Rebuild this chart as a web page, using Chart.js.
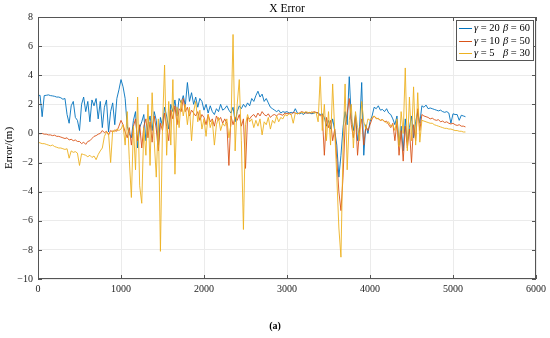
<!DOCTYPE html>
<html>
<head>
<meta charset="utf-8">
<script src="https://cdn.jsdelivr.net/npm/chart.js@4"></script>
<style>
  html,body{margin:0;padding:0;background:#fff;}
  #wrap{width:550px;height:338px;position:relative;}
</style>
</head>
<body>
<div id="wrap"><canvas id="c" width="550" height="338"></canvas></div>
<script>
// sample spacing of the recorded series (epoch index step)
const sampleStep = 25;

const seriesNames = ['γ = 20  β = 60', 'γ = 10  β = 50', 'γ = 5    β = 30'];
const xTicks = [0, 1000, 2000, 3000, 4000, 5000, 6000];
const yTicks = [-10, -8, -6, -4, -2, 0, 2, 4, 6, 8];

const blueErr = [
  2.6, 2.62, 1.15, 2.6, 2.62, 2.65, 2.6, 2.58, 2.55, 2.5,
  2.5, 2.45, 2.35, 2.4, 1.3, 0.7, 1.9, 2.2, 1.1, 0.9,
  0.2, 2.0, 2.5, 1.5, 2.2, 0.8, 2.3, 1.9, 2.4, 1.0,
  2.2, 0.4, 1.8, 2.3, 0.1, 1.5, 2.1, 0.6, 2.4, 3.0,
  3.7, 3.2, 2.4, 0.5, 0.0, -0.3, 0.9, 1.5, -1.0, 0.4,
  0.8, 1.3, -0.5, 0.6, 1.2, 0.2, 1.5, 0.9, -0.8, 1.1,
  0.5, 1.8, 1.2, 0.3, 2.0, 1.5, 2.3, 1.2, 2.4, 2.1,
  2.6, 1.9, 3.5, 2.2, 2.8, 2.0, 2.5, 1.8, 2.4, 2.2,
  1.6, 2.0, 1.4, 1.9, 1.5, 1.3, 1.7, 1.5, 2.0, 1.6,
  1.7, 1.9, 1.6, 1.4, 1.8, 0.8, 1.5, 1.9, 1.7, 2.0,
  1.8, 2.1, 1.9, 2.4, 2.2, 2.6, 2.9, 2.5, 2.7, 2.2,
  2.4, 2.1, 1.8, 1.7, 1.6, 1.5, 1.6, 1.4, 1.5, 1.45,
  1.5, 1.4, 1.45, 1.4, 1.7, 1.4, 1.35, 1.4, 1.3, 1.45,
  1.4, 1.4, 1.35, 1.4, 1.45, 1.4, 1.3, 1.35, 1.1, 0.5,
  0.9, 0.3, 1.0, 0.2, -0.8, -3.0, -1.5, 0.4, 1.5, 0.6,
  3.9, 1.0, 0.2, 1.3, -0.5, 0.5, 3.5, -1.5, 0.6, 0.0,
  0.8, 1.2, 1.8, 1.7, 1.9, 1.6, 1.65, 1.5, 1.7, 1.4,
  1.3, 1.0, 0.6, 1.2, -0.8, 0.5, -1.2, 1.0, -0.6, 0.4,
  1.2, -0.3, 0.8, 1.5, 0.7, 1.9, 1.8, 1.95, 1.7, 1.75,
  1.7, 1.65, 1.6, 1.55, 1.6, 1.5, 1.45, 1.5, 1.4, 0.7,
  1.35, 1.3, 1.3, 0.9, 1.25, 1.2, 1.15
];

const redErr = [
  0.0, -0.02, 0.0, -0.05, -0.05, -0.1, -0.1, -0.15, -0.12, -0.2,
  -0.2, -0.25, -0.3, -0.35, -0.3, -0.45, -0.4, -0.5, -0.45, -0.55,
  -0.55, -0.7, -0.6, -0.75, -0.55, -0.5, -0.35, -0.2, -0.15, -0.05,
  0.0, 0.2, 0.05, 0.15, -0.1, 0.2, 0.1, 0.25, 0.15, 0.5,
  0.9, 0.6, 0.1, -0.3, 0.4, -0.8, 0.5, 1.0, -0.5, 0.6,
  -1.0, 0.5, 1.0, -0.3, 0.8, -0.6, 1.2, 0.3, -1.2, 0.7,
  0.2, 1.4, 0.5, -0.5, 1.6, 1.0, 1.9, 0.6, 1.7, 1.5,
  2.4, 1.5, 1.8, 1.2, 1.6, 1.4, 1.2, 1.5, 0.9, 1.3,
  1.1, 0.6, 1.3, 0.8, 1.0, 0.5, 1.2, 0.9, 1.1, 0.7,
  1.0, 0.7, -2.2, 1.2, 0.6, 1.1, 0.9, 1.3, 0.5, 1.0,
  -2.4, 1.1, 1.0, 1.2, 1.3, 1.1, 1.4, 1.2, 1.5, 1.3,
  1.2, 1.35, 1.1, 1.25, 1.3, 1.2, 1.35, 1.3, 1.25, 1.4,
  1.35, 1.4, 1.3, 1.45, 1.4, 1.35, 1.4, 1.5, 1.45, 1.4,
  1.4, 1.45, 1.4, 1.5, 1.45, 1.4, 1.2, 1.3, -1.5, 1.1,
  0.4, 0.9, -0.5, 0.3, -1.8, -4.0, -5.3, -3.0, 0.5, 1.4,
  2.4, 0.6, -0.3, 1.2, -1.5, 0.3, 1.0, -0.8, 0.5, 0.2,
  0.6, 1.0, 1.2, 1.05, 1.0, 0.9, 0.95, 0.8, 0.85, 0.6,
  0.4, 0.7, -0.5, 0.8, -1.5, 0.2, -1.9, 0.5, -1.0, 0.3,
  -2.0, 0.6, -0.5, 1.7, 0.2, 1.3, 1.2, 1.15, 1.1, 1.0,
  1.05, 0.95, 0.9, 0.95, 0.8, 0.85, 0.75, 0.8, 0.7, 0.65,
  0.7, 0.6, 0.55, 0.6, 0.5, 0.5, 0.45
];

const yellowErr = [
  -0.6, -0.65, -0.7, -0.7, -0.75, -0.8, -0.85, -0.8, -0.9, -0.95,
  -1.0, -1.0, -1.05, -1.1, -1.05, -1.7, -1.2, -1.3, -1.25, -1.35,
  -2.2, -1.4, -1.45, -1.5, -1.6, -1.5, -1.65, -1.55, -1.8, -1.45,
  -1.2, -1.0, -0.2, 0.1, 0.0, -2.0, 0.2, 0.1, 0.3, 0.2,
  0.3, 0.6, -0.8, 1.5, -1.8, -4.4, 0.5, -2.5, 2.5, -3.6,
  -4.8, 0.4, -1.5, 2.0, -2.2, 2.8, -0.5, -3.0, 1.0, -8.1,
  0.5, 4.7, -1.5, 2.2, -0.8, 3.7, -2.8, 1.8, 0.4, 2.3,
  1.2, 2.0, 0.6, 1.8, -0.5, 1.5, 2.2, 0.8, 1.6, 0.3,
  1.0, -0.2, 1.3, 0.4, 0.9, -0.8, 0.6, 1.1, 0.2, 0.7,
  0.5, 1.0, -0.3, 0.6, 6.8, -1.2, 2.0, 3.7, -0.5, -6.6,
  0.6, 1.3, 0.8, 1.0, 0.4, 0.9, 0.5, 1.0, -0.1, 0.8,
  0.6, 1.1, 0.3, 0.9, 0.7, 1.2, 0.8, 1.1, 1.0, 1.3,
  1.2, 1.35, 1.3, 0.7, 1.4, 1.35, 1.4, 1.45, 1.4, 1.5,
  1.45, 1.4, 1.5, 1.4, 1.45, 0.8, 3.9, 0.2, 2.0, -0.5,
  1.5, -0.8, 3.4, 0.2, -3.0, -6.5, -8.5, -1.0, 3.4, -2.5,
  0.9, 2.0, -1.0, 1.5, 0.4, -0.5, 2.2, 0.8, 0.3, 1.0,
  0.9, 1.1, 1.2, 1.0, 1.05, 0.9, 0.95, 0.85, 0.7, 0.8,
  0.5, 0.6, 0.2, 1.0, -0.9, 1.5, 0.0, 4.5, -1.2, 2.5,
  -0.5, 3.2, -0.8, 2.8, -0.6, 0.9, 0.85, 0.8, 0.75, 0.7,
  0.7, 0.6, 0.55, 0.5, 0.45, 0.4, 0.35, 0.35, 0.3, 0.3,
  0.25, 0.2, 0.2, 0.15, 0.15, 0.1, 0.1
];

const colors = ['#0072BD', '#D95319', '#EDB120'];
const allSeries = [blueErr, redErr, yellowErr];

const toPoints = arr => arr.map((v, i) => ({ x: i * sampleStep, y: v }));

const SERIF = '"Liberation Serif", "DejaVu Serif", serif';

const decor = {
  id: 'decor',
  afterDraw(chart) {
    const { ctx, chartArea, scales } = chart;
    const { left, right, top, bottom } = chartArea;
    const x = scales.x, y = scales.y;
    ctx.save();
    ctx.strokeStyle = '#555';
    ctx.lineWidth = 1;
    ctx.strokeRect(Math.round(left) + 0.5, Math.round(top) + 0.5,
                   Math.round(right - left) - 1, Math.round(bottom - top) - 1);
    ctx.beginPath();
    yTicks.forEach(v => {
      const py = Math.round(y.getPixelForValue(v)) + 0.5;
      ctx.moveTo(left, py); ctx.lineTo(left + 4, py);
      ctx.moveTo(right - 4, py); ctx.lineTo(right, py);
    });
    xTicks.forEach(v => {
      const px = Math.round(x.getPixelForValue(v)) + 0.5;
      ctx.moveTo(px, bottom); ctx.lineTo(px, bottom - 4);
      ctx.moveTo(px, top); ctx.lineTo(px, top + 4);
    });
    ctx.stroke();

    ctx.fillStyle = '#000';
    ctx.font = '11.5px ' + SERIF;
    ctx.textAlign = 'center';
    ctx.textBaseline = 'middle';
    ctx.fillText('X Error', (left + right) / 2, 9);

    ctx.save();
    ctx.translate(9, (top + bottom) / 2);
    ctx.rotate(-Math.PI / 2);
    ctx.font = '11px ' + SERIF;
    ctx.fillText('Error/(m)', 0, 0);
    ctx.restore();

    ctx.font = 'bold 10px ' + SERIF;
    ctx.fillText('(a)', 275, 326);

    const lx = 456, ly = 20, lw = 77, lh = 40;
    ctx.fillStyle = '#fff';
    ctx.fillRect(lx, ly, lw, lh);
    ctx.strokeStyle = '#555';
    ctx.strokeRect(lx + 0.5, ly + 0.5, lw, lh);
    const rows = [
      ['γ', ' = 20', 'β', ' = 60'],
      ['γ', ' = 10', 'β', ' = 50'],
      ['γ', ' = 5', 'β', ' = 30']
    ];
    const rowY = [28, 41, 53];
    ctx.textAlign = 'left';
    rows.forEach((r, i) => {
      ctx.strokeStyle = colors[i];
      ctx.lineWidth = 1;
      ctx.beginPath();
      ctx.moveTo(459, rowY[i] + 0.5); ctx.lineTo(472, rowY[i] + 0.5);
      ctx.stroke();
      ctx.fillStyle = '#000';
      let cx = 474;
      ctx.font = 'italic 10.5px ' + SERIF;
      ctx.fillText(r[0], cx, rowY[i]);
      cx += ctx.measureText(r[0]).width;
      ctx.font = '10.5px ' + SERIF;
      ctx.fillText(r[1], cx, rowY[i]);
      let bx = 503;
      ctx.font = 'italic 10.5px ' + SERIF;
      ctx.fillText(r[2], bx, rowY[i]);
      bx += ctx.measureText(r[2]).width;
      ctx.font = '10.5px ' + SERIF;
      ctx.fillText(r[3], bx, rowY[i]);
    });
    ctx.restore();
  }
};

new Chart(document.getElementById('c'), {
  type: 'line',
  data: {
    datasets: allSeries.map((s, i) => ({
      label: seriesNames[i],
      data: toPoints(s),
      borderColor: colors[i],
      borderWidth: 0.9,
      pointRadius: 0,
      tension: 0,
      fill: false,
      order: 3 - i
    }))
  },
  options: {
    responsive: false,
    devicePixelRatio: 1,
    animation: false,
    layout: { padding: { left: 0, top: 17, right: 14, bottom: 0 } },
    plugins: { legend: { display: false }, title: { display: false }, tooltip: { enabled: false } },
    scales: {
      x: {
        type: 'linear', min: 0, max: 6000,
        afterFit: s => { s.height = 59; },
        afterBuildTicks: s => { s.ticks = xTicks.map(v => ({ value: v })); },
        ticks: { font: { family: SERIF, size: 10 }, color: '#222', padding: 4, maxRotation: 0,
                 callback: v => String(v) },
        grid: { color: '#ebebeb', drawTicks: false },
        border: { display: false }
      },
      y: {
        min: -10, max: 8,
        afterFit: s => { s.width = 38; },
        afterBuildTicks: s => { s.ticks = yTicks.map(v => ({ value: v })); },
        ticks: { font: { family: SERIF, size: 10 }, color: '#222', padding: 5,
                 callback: v => String(v).replace('-', '\u2212') },
        grid: { color: '#ebebeb', drawTicks: false },
        border: { display: false }
      }
    }
  },
  plugins: [decor]
});
</script>
</body>
</html>
